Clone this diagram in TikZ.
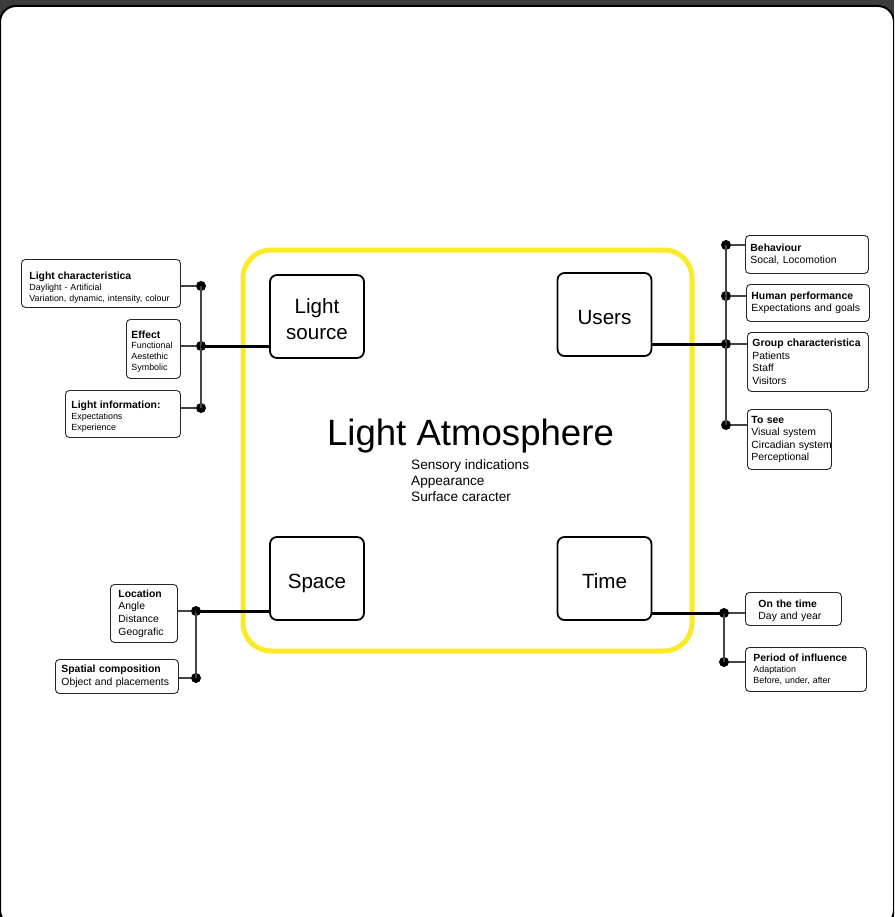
\documentclass[tikz,border=0pt]{standalone}
\usepackage{fontspec}
\setmainfont{Liberation Sans}

\definecolor{frameg}{HTML}{3D3D3D}
\definecolor{atmo}{RGB}{250,234,40}
\definecolor{twigg}{HTML}{444444}

\newcommand{\hd}[1]{{\fontsize{10.4}{12}\selectfont\bfseries #1}}

\begin{document}
\begin{tikzpicture}
[
	x=1pt, y=-1pt,
	hub/.style={draw,line width=1.8pt,rounded corners=7pt,minimum width=94pt,minimum height=83pt},
	hubtxt/.style={align=center,font=\fontsize{20.6}{26}\selectfont,text depth=0pt,yshift=-2.5pt},
	infobox/.style={draw=black!85,line width=0.9pt,rounded corners=4pt,anchor=north west,align=left,inner ysep=0pt},
	smalltxt/.style={font=\fontsize{8.9}{10.8}\selectfont},
	bigtxt/.style={font=\fontsize{10.4}{12.6}\selectfont},
	junction/.style={circle,fill,inner sep=0pt,minimum size=10pt},
	trunk/.style={line width=3pt},
	twig/.style={twigg,line width=1.5pt}
]

	% frame
	\useasboundingbox (0,0) rectangle (894,917);
	\clip (0,0) rectangle (894,917);
	\fill[frameg] (0,0) rectangle (894,917);
	\filldraw[fill=white,draw=black,line width=2pt,rounded corners=16pt] (0,6) rectangle (894,926);

	\draw[atmo,line width=5pt,rounded corners=28pt] (243,250) rectangle (692,651);

	\node[hub,label={[hubtxt]center:Light\\source}] at (317,316.5) (src) {};
	\node[hub,label={[hubtxt]center:Users}] at (604.5,314.5) (users) {};
	\node[hub,label={[hubtxt]center:Space}] at (317,578.5) (space) {};
	\node[hub,label={[hubtxt]center:Time}] at (604.5,578.5) (time) {};

	\node[font=\fontsize{36.6}{40}\selectfont] at (470.5,436) (atm) {Light Atmosphere};
	\node[anchor=north west,align=left,inner sep=0pt,font=\fontsize{13.6}{16}\selectfont] at (411,459) (atmsub) {Sensory indications\\Appearance\\Surface caracter};

	% left, light source
	\node[infobox,smalltxt,inner xsep=8pt,text width=143pt,minimum height=48pt,text height=15.5pt] at (21,259) (lchar)
		{\hd{Light characteristica}\\Daylight - Artificial\\Variation, dynamic, intensity, colour};
	\node[infobox,smalltxt,inner xsep=5pt,text width=44pt,minimum height=59pt,text height=12.5pt] at (126,319) (effect)
		{\hd{Effect}\\Functional\\Aestethic\\Symbolic};
	\node[infobox,smalltxt,inner xsep=6pt,text width=103pt,minimum height=47pt,text height=13.5pt] at (65,390) (linfo)
		{\hd{Light information:}\\Expectations\\Experience};

	\node[junction] at (201,286) (l1) {};
	\node[junction] at (201,346) (l2) {};
	\node[junction] at (201,408) (l3) {};

	\draw[twig] (l1.center) -- (l3.center);
	\draw[twig] (l1) -- (l1 -| lchar.east);
	\draw[twig] (l2) -- (l2 -| effect.east);
	\draw[twig] (l3) -- (l3 -| linfo.east);
	\draw[trunk] (l2.center) -- (l2 -| src.west);

	% right, users
	\node[infobox,bigtxt,inner xsep=5pt,text width=113pt,minimum height=38pt] at (745,235) (behav)
		{\hd{Behaviour}\\Socal, Locomotion};
	\node[infobox,bigtxt,inner xsep=5pt,text width=113pt,minimum height=37pt] at (746,284) (human)
		{\hd{Human performance}\\Expectations and goals};
	\node[infobox,bigtxt,inner xsep=5pt,text width=111pt,minimum height=59pt] at (747,332) (group)
		{\hd{Group characteristica}\\Patients\\Staff\\Visitors};
	\node[infobox,bigtxt,inner xsep=4pt,text width=76pt,minimum height=60pt] at (747,409) (tosee)
		{\hd{To see}\\Visual system\\\mbox{Circadian system}\\Perceptional};

	\node[junction] at (726,245) (r1) {};
	\node[junction] at (726,296) (r2) {};
	\node[junction] at (726,344) (r3) {};
	\node[junction] at (726,425) (r4) {};

	\draw[twig] (r1.center) -- (r4.center);
	\draw[twig] (r1) -- (r1 -| behav.west);
	\draw[twig] (r2) -- (r2 -| human.west);
	\draw[twig] (r3) -- (r3 -| group.west);
	\draw[twig] (r4) -- (r4 -| tosee.west);
	\draw[trunk] (r3.center) -- (r3 -| users.east);

	% bottom left, space
	\node[infobox,bigtxt,inner xsep=8pt,text width=51pt,minimum height=58pt] at (110,584) (loc)
		{\hd{Location}\\Angle\\Distance\\Geografic};
	\node[infobox,bigtxt,inner xsep=6pt,text width=111pt,minimum height=34pt] at (55,659) (spat)
		{\hd{Spatial composition}\\Object and placements};

	\node[junction] at (196,611) (s1) {};
	\node[junction] at (196,678) (s2) {};

	\draw[twig] (s1.center) -- (s2.center);
	\draw[twig] (s1) -- (s1 -| loc.east);
	\draw[twig] (s2) -- (s2 -| spat.east);
	\draw[trunk] (s1.center) -- (s1 -| space.west);

	% bottom right, time
	\node[infobox,bigtxt,inner xsep=13pt,text width=70pt,minimum height=33pt,text height=11.5pt] at (745,592) (ontime)
		{\hd{On the time}\\Day and year};
	\node[infobox,smalltxt,inner xsep=8pt,text width=105pt,minimum height=44pt] at (745,647) (period)
		{\hd{Period of influence}\\Adaptation\\Before, under, after};

	\node[junction] at (724,613) (t1) {};
	\node[junction] at (724,662) (t2) {};

	\draw[twig] (t1.center) -- (t2.center);
	\draw[twig] (t1) -- (t1 -| ontime.west);
	\draw[twig] (t2) -- (t2 -| period.west);
	\draw[trunk] (t1.center) -- (t1 -| time.east);

\end{tikzpicture}
\end{document}
